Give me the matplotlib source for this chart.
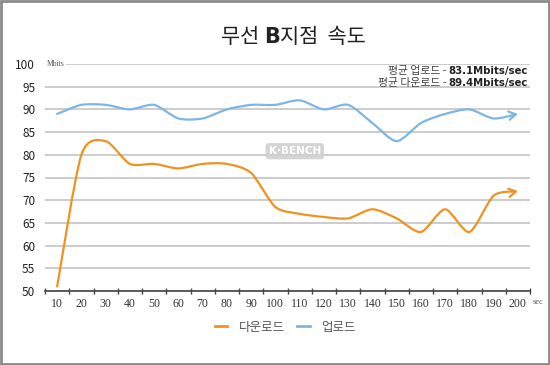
import numpy as np
import matplotlib
matplotlib.use("Agg")
import matplotlib.pyplot as plt
from matplotlib.path import Path
from matplotlib.patches import FancyArrowPatch, Rectangle
from matplotlib.lines import Line2D

plt.rcParams['font.family'] = ['Noto Sans CJK KR', 'DejaVu Sans']

# data
seconds = list(range(10, 201, 10))
download = [51, 80, 83, 78, 78, 77, 78, 78, 76, 68.5, 67, 66.3, 66, 68, 66, 63, 68, 63, 71, 72]
upload = [89, 91, 91, 90, 91, 88, 88, 90, 91, 91, 92, 90, 91, 87, 83, 87, 89, 90, 88, 89]
series_names = ['다운로드', '업로드']
avg_labels = [('평균 업로드 - ', '83.1Mbits/sec'), ('평균 다운로드 - ', '89.4Mbits/sec')]
y_ticks = list(range(50, 101, 5))

ORANGE = '#F0921F'
BLUE = '#7DB6E6'
GRID = '#C4C4C4'


def smooth_path(x, y, k=0.13):
    # bezier through the points (excel style smoothed line)
    pts = np.column_stack([x, y]).astype(float)
    ext = np.vstack([pts[0], pts, pts[-1]])
    verts = [pts[0]]
    codes = [Path.MOVETO]
    for i in range(len(pts) - 1):
        p0, p1, p2, p3 = ext[i], ext[i + 1], ext[i + 2], ext[i + 3]
        verts += [p1 + (p2 - p0) * k, p2 - (p3 - p1) * k, p2]
        codes += [Path.CURVE4] * 3
    return Path(verts, codes)


fig = plt.figure(figsize=(5.5, 3.65), dpi=100)
ax = fig.add_axes([45 / 550, 1 - 291 / 365, 485 / 550, 227 / 365])

for vals, col in [(download, ORANGE), (upload, BLUE)]:
    arr = FancyArrowPatch(path=smooth_path(seconds, vals), arrowstyle='->,head_length=0.5,head_width=0.3',
                          mutation_scale=10, color=col, lw=1.6, zorder=3)
    ax.add_patch(arr)

ax.set_xlim(5, 205)
ax.set_ylim(50, 100)
ax.set_yticks(y_ticks)
ax.yaxis.grid(True, color=GRID, lw=1.2)
ax.set_axisbelow(True)
ax.tick_params(axis='y', length=0, pad=7, labelsize=8.5, labelcolor='#222222')

ax.set_xticks(np.arange(5, 206, 10))
ax.set_xticklabels([])
ax.set_xticks(seconds, minor=True)
ax.set_xticklabels([str(s) for s in seconds], minor=True, family='Liberation Serif', fontsize=8.5, color='#333333')
ax.tick_params(axis='x', which='major', direction='inout', length=5, width=1, color='#444444')
ax.tick_params(axis='x', which='minor', length=0, pad=5)

for s in ['left', 'right', 'top']:
    ax.spines[s].set_visible(False)
ax.spines['bottom'].set_color('#444444')
ax.spines['bottom'].set_linewidth(1.2)

ax.text(5.6, 100, 'Mbits', family='Liberation Serif', fontsize=5.5, color='#555555', va='center', ha='left',
        bbox=dict(facecolor='white', edgecolor='none', pad=1.5))
ax.text(1.005, -0.05, 'sec', transform=ax.transAxes, family='Liberation Serif', fontsize=6, color='#555555',
        va='center', ha='left')

# watermark
ax.text(108, 80.8, 'K·BENCH', fontsize=7.5, color='white', weight='bold', ha='center', va='center', family='DejaVu Sans',
        bbox=dict(boxstyle='round,pad=0.3', facecolor='#d0d0d0', edgecolor='none', alpha=0.9), zorder=2)

# average text, top right
for i, (kor, num) in enumerate(avg_labels):
    t = fig.text(528 / 550, 1 - (71 + 12 * i) / 365, num, ha='right', va='center', fontsize=7.3,
                 weight='bold', family='DejaVu Sans', color='#222222')
    ax.annotate(kor, xy=(0, 0.5), xycoords=t, ha='right', va='center', fontsize=7.8, color='#444444')

# title with bold B
t1 = fig.text(221 / 550, 1 - 37 / 365, '무선 ', fontsize=15, va='center', ha='left', color='#222222')
t2 = ax.annotate('B', xy=(1, 0.5), xycoords=t1, fontsize=15, weight='bold', va='center', ha='left',
                 family='DejaVu Sans', color='#222222', annotation_clip=False)
ax.annotate('지점  속도', xy=(1, 0.5), xycoords=t2, fontsize=15, va='center', ha='left', color='#222222',
            annotation_clip=False)

handles = [Line2D([], [], color=ORANGE, lw=2), Line2D([], [], color=BLUE, lw=2)]
fig.legend(handles, series_names, loc='center', bbox_to_anchor=(285 / 550, 1 - 327 / 365), ncol=2,
           frameon=False, fontsize=9, handlelength=1.0, handletextpad=0.9, columnspacing=1.0,
           labelcolor='#555555')

fig.patches.append(Rectangle((0.002, 0.003), 0.996, 0.994, transform=fig.transFigure, fill=False,
                             edgecolor='#8a8a8a', lw=2))

fig.savefig('out.png', dpi=100)
